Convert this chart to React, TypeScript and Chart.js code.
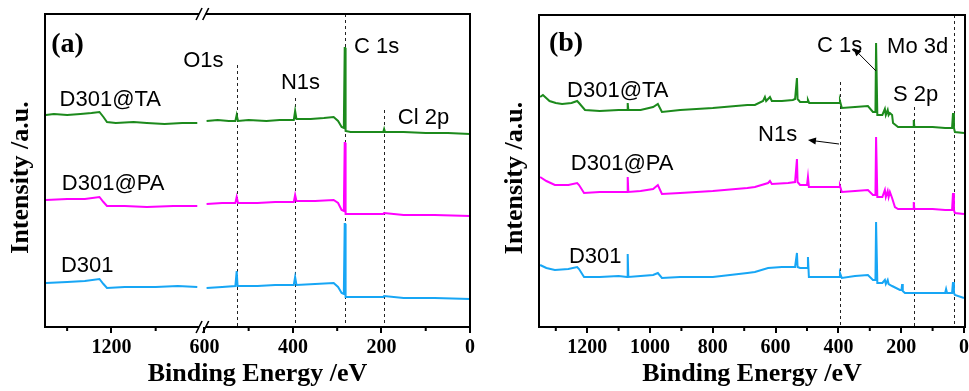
import React, { useEffect, useRef } from "react";
import { Chart, registerables } from "chart.js";

Chart.register(...registerables);

// ---------- shared ----------
const SERIES_NAMES = ["D301@TA", "D301@PA", "D301"];
const SERIES_COLORS = ["#1c8a1c", "#ff00ff", "#17a6f5"];
const X_TITLE = "Binding Energy /eV";
const Y_TITLE = "Intensity /a.u.";

// ---------- panel (a): broken axis 1350-1000 | 600-0 eV ----------
const BREAK_LOW = 600;
const BREAK_HIGH = 1000;
const AXIS_GAP = 10;

const A_TA: [number, number][] = [
  [1348, 212], [1330, 213], [1300, 212], [1270, 213], [1245, 214], [1227, 215], [1218, 210], [1210, 205],
  [1190, 204], [1150, 205], [1120, 204], [1080, 203], [1040, 204], [1006, 204],
  [595, 206], [570, 207], [545, 206], [530, 206], [527, 212], [524, 206], [500, 207], [460, 206], [430, 207],
  [398, 207], [395, 216], [392, 208], [360, 208], [330, 209], [308, 210], [298, 206], [290, 200], [285, 199],
  [283, 279], [282, 279], [281, 196], [270, 195], [230, 195], [196, 195], [194, 198], [192, 195], [150, 195],
  [100, 194], [50, 194], [0, 193],
];
const A_PA: [number, number][] = [
  [1348, 127], [1300, 128], [1260, 128], [1227, 130], [1218, 125], [1210, 121], [1170, 121], [1120, 120],
  [1060, 121], [1006, 121],
  [595, 123], [560, 124], [530, 124], [527, 130], [524, 124], [480, 124], [440, 125], [398, 125], [395, 132],
  [392, 126], [350, 126], [308, 127], [298, 124], [290, 117], [285, 116], [283, 184], [282, 184], [281, 113],
  [250, 113], [196, 113], [194, 114], [150, 112], [80, 112], [0, 111],
];
const A_D301: [number, number][] = [
  [1348, 44], [1300, 45], [1260, 46], [1227, 48], [1218, 43], [1210, 39], [1170, 40], [1100, 40], [1050, 41],
  [1006, 40],
  [595, 39], [560, 40], [530, 41], [527, 56], [525, 41], [480, 41], [440, 42], [398, 42], [395, 50], [392, 42],
  [350, 43], [308, 44], [298, 40], [290, 34], [285, 33], [283, 103], [282, 103], [281, 30], [250, 30], [196, 30],
  [194, 31], [150, 29], [80, 29], [0, 28],
];
const A_TICKS = [1200, 600, 400, 200, 0];
const A_MINOR = [1300, 1100, 500, 300, 100];
const A_LINES = [
  { e: 527, top: 262 },
  { e: 395, top: 229 },
  { e: 283, top: 313 },
  { e: 194, top: 217 },
];
const A_LABELS = [
  { text: "O1s", e: 1038, i: 260 },
  { text: "N1s", e: 427, i: 238 },
  { text: "C 1s", e: 262, i: 274 },
  { text: "Cl 2p", e: 163, i: 203 },
  { text: "D301@TA", e: 1317, i: 221 },
  { text: "D301@PA", e: 1312, i: 137 },
  { text: "D301", e: 1314, i: 55 },
];

// ---------- panel (b): continuous axis ----------
const B_TA: [number, number][] = [
  [1350, 230], [1341, 232], [1320, 226], [1300, 224], [1280, 223], [1250, 224], [1232, 226], [1226, 224],
  [1207, 217], [1160, 216], [1100, 217], [1073, 217], [1071, 224], [1069, 217], [1030, 217], [990, 220],
  [975, 223], [962, 215], [904, 217], [800, 219], [690, 222], [666, 222], [640, 226], [634, 230], [630, 226],
  [618, 230], [612, 226], [580, 226], [545, 227], [538, 228], [532, 249], [530, 228], [522, 225], [499, 225],
  [497, 227], [493, 224], [420, 224], [396, 224], [395, 226], [389, 219], [347, 220], [306, 221], [290, 215],
  [282, 215], [280, 284], [278, 284], [276, 212], [260, 212], [252, 218], [249, 212], [243, 217], [240, 212],
  [236, 214], [229, 212], [226, 204], [210, 200], [162, 200], [160, 207], [158, 200], [100, 200], [60, 199],
  [38, 199], [35, 214], [32, 199], [29, 195], [0, 194],
];
const B_PA: [number, number][] = [
  [1350, 150], [1330, 146], [1303, 142], [1260, 142], [1232, 144], [1226, 142], [1210, 134], [1160, 135],
  [1100, 135], [1073, 135], [1071, 150], [1069, 135], [1030, 136], [990, 138], [975, 142], [962, 133],
  [904, 134], [800, 136], [690, 139], [666, 140], [624, 144], [618, 146], [612, 143], [560, 144], [538, 145],
  [532, 168], [530, 145], [522, 142], [500, 142], [497, 150], [494, 140], [420, 140], [396, 140], [395, 141],
  [389, 135], [347, 136], [306, 137], [290, 132], [282, 132], [280, 190], [278, 190], [276, 130], [260, 130],
  [252, 137], [249, 130], [243, 136], [240, 130], [236, 135], [229, 129], [220, 120], [210, 118], [162, 118],
  [160, 125], [158, 118], [100, 118], [60, 117], [38, 117], [35, 134], [32, 117], [29, 114], [0, 113],
];
const B_D301: [number, number][] = [
  [1350, 62], [1330, 59], [1303, 57], [1260, 58], [1232, 60], [1226, 58], [1210, 50], [1160, 50], [1100, 51],
  [1073, 50], [1071, 73], [1069, 50], [1030, 51], [990, 52], [975, 54], [962, 49], [904, 50], [800, 50],
  [690, 54], [666, 55], [624, 59], [580, 60], [538, 60], [532, 74], [530, 60], [522, 59], [499, 59], [497, 70],
  [494, 50], [420, 50], [396, 50], [395, 54], [389, 49], [347, 51], [306, 52], [290, 47], [282, 47], [280, 105],
  [278, 105], [276, 44], [260, 44], [252, 47], [249, 43], [243, 47], [240, 43], [229, 41], [204, 37], [199, 37],
  [197, 43], [195, 36], [188, 34], [159, 34], [120, 34], [60, 34], [57, 38], [54, 34], [38, 34], [35, 45],
  [32, 34], [29, 32], [0, 29],
];
const B_TICKS = [1200, 1000, 800, 600, 400, 200, 0];
const B_MINOR = [1300, 1100, 900, 700, 500, 300, 100];
const B_LINES = [
  { e: 395, top: 245 },
  { e: 159, top: 220 },
  { e: 32, top: 312 },
];
const B_LABELS = [
  { text: "C 1s", e: 468, i: 275 },
  { text: "Mo 3d", e: 245, i: 274 },
  { text: "D301@TA", e: 1264, i: 230 },
  { text: "S 2p", e: 226, i: 226 },
  { text: "N1s", e: 656, i: 186 },
  { text: "D301@PA", e: 1252, i: 157 },
  { text: "D301", e: 1258, i: 64 },
];
const B_ARROWS = [
  { from: [280, 256], to: [353, 279] },
  { from: [398, 183], to: [497, 187] },
];

// ---------- helpers ----------
const SERIF = "'Liberation Serif', 'Times New Roman', serif";
const SANS = "'Liberation Sans', Arial, sans-serif";

const brokenAxis = (e: number) =>
  e <= BREAK_LOW
    ? e
    : e >= BREAK_HIGH
    ? e - (BREAK_HIGH - BREAK_LOW - AXIS_GAP)
    : BREAK_LOW + ((e - BREAK_LOW) * AXIS_GAP) / (BREAK_HIGH - BREAK_LOW);
const plainAxis = (e: number) => e;

type Panel = {
  tag: string;
  tagPos: [number, number];
  series: [number, number][][];
  toAxis: (e: number) => number;
  broken: boolean;
  xMin: number;
  xMax: number;
  yMax: number;
  ticks: number[];
  minor: number[];
  lines: { e: number; top: number }[];
  labels: { text: string; e: number; i: number }[];
  arrows: { from: number[]; to: number[] }[];
  padding: { left: number; right: number; top: number; bottom: number };
  canvasLeft: number;
  canvasWidth: number;
};

const PANELS: Panel[] = [
  {
    tag: "(a)",
    tagPos: [1336, 275],
    series: [A_TA, A_PA, A_D301],
    toAxis: brokenAxis,
    broken: true,
    xMin: 0,
    xMax: 960,
    yMax: 313,
    ticks: A_TICKS,
    minor: A_MINOR,
    lines: A_LINES,
    labels: A_LABELS,
    arrows: [],
    padding: { left: 45, right: 10, top: 14, bottom: 0 },
    canvasLeft: 0,
    canvasWidth: 480,
  },
  {
    tag: "(b)",
    tagPos: [1322, 276],
    series: [B_TA, B_PA, B_D301],
    toAxis: plainAxis,
    broken: false,
    xMin: -3.2,
    xMax: 1353.5,
    yMax: 312,
    ticks: B_TICKS,
    minor: B_MINOR,
    lines: B_LINES,
    labels: B_LABELS,
    arrows: B_ARROWS,
    padding: { left: 55, right: 4, top: 15, bottom: 0 },
    canvasLeft: 484,
    canvasWidth: 485,
  },
];

function buildData(p: Panel, pts: [number, number][]) {
  const out: { x: number; y: number | null }[] = [];
  pts.forEach(([e, i], k) => {
    if (p.broken && k > 0 && pts[k - 1][0] >= BREAK_HIGH && e <= BREAK_LOW) {
      out.push({ x: BREAK_LOW + AXIS_GAP / 2, y: null });
    }
    out.push({ x: p.toAxis(e), y: i });
  });
  return out;
}

function decorPlugin(p: Panel) {
  return {
    id: "decor",
    beforeDatasetsDraw(chart: any) {
      const { ctx, chartArea } = chart;
      const xs = chart.scales.x;
      const ys = chart.scales.y;
      ctx.save();
      ctx.setLineDash([3, 3]);
      ctx.lineWidth = 1;
      ctx.strokeStyle = "#222";
      for (const l of p.lines) {
        const x = Math.round(xs.getPixelForValue(p.toAxis(l.e))) + 0.5;
        ctx.beginPath();
        ctx.moveTo(x, ys.getPixelForValue(l.top));
        ctx.lineTo(x, chartArea.bottom);
        ctx.stroke();
      }
      ctx.restore();
    },
    afterDraw(chart: any) {
      const { ctx, chartArea } = chart;
      const xs = chart.scales.x;
      const ys = chart.scales.y;
      const { left, right, top, bottom } = chartArea;
      ctx.save();
      // frame
      ctx.strokeStyle = "#000";
      ctx.lineWidth = 2;
      ctx.setLineDash([]);
      ctx.beginPath();
      ctx.moveTo(left, top - 1);
      ctx.lineTo(left, bottom + 1);
      ctx.moveTo(right, top - 1);
      ctx.lineTo(right, bottom + 1);
      if (p.broken) {
        const b1 = xs.getPixelForValue(BREAK_LOW + AXIS_GAP * 1.2);
        const b2 = xs.getPixelForValue(BREAK_LOW - AXIS_GAP * 0.3);
        for (const y of [top, bottom]) {
          ctx.moveTo(left, y);
          ctx.lineTo(b1, y);
          ctx.moveTo(b2, y);
          ctx.lineTo(right, y);
        }
        ctx.stroke();
        ctx.lineWidth = 1.6;
        ctx.beginPath();
        for (const y of [top, bottom]) {
          for (const bx of [b1, b2]) {
            ctx.moveTo(bx - 3, y + 6);
            ctx.lineTo(bx + 3, y - 6);
          }
        }
        ctx.stroke();
      } else {
        ctx.moveTo(left, top);
        ctx.lineTo(right, top);
        ctx.moveTo(left, bottom);
        ctx.lineTo(right, bottom);
        ctx.stroke();
      }
      // minor ticks
      ctx.lineWidth = 2;
      ctx.beginPath();
      for (const m of p.minor) {
        const x = xs.getPixelForValue(p.toAxis(m));
        ctx.moveTo(x, bottom);
        ctx.lineTo(x, bottom + 4);
      }
      ctx.stroke();
      // labels
      ctx.fillStyle = "#000";
      ctx.textBaseline = "alphabetic";
      ctx.textAlign = "left";
      ctx.font = `22px ${SANS}`;
      for (const lb of p.labels) {
        ctx.fillText(lb.text, xs.getPixelForValue(p.toAxis(lb.e)), ys.getPixelForValue(lb.i));
      }
      ctx.font = `bold 28px ${SERIF}`;
      ctx.fillText(p.tag, xs.getPixelForValue(p.toAxis(p.tagPos[0])), ys.getPixelForValue(p.tagPos[1]));
      // arrows
      ctx.strokeStyle = "#000";
      ctx.fillStyle = "#000";
      ctx.lineWidth = 1;
      for (const a of p.arrows) {
        const x1 = xs.getPixelForValue(p.toAxis(a.from[0]));
        const y1 = ys.getPixelForValue(a.from[1]);
        const x2 = xs.getPixelForValue(p.toAxis(a.to[0]));
        const y2 = ys.getPixelForValue(a.to[1]);
        const ang = Math.atan2(y2 - y1, x2 - x1);
        const hl = 8;
        const hw = 3.5;
        ctx.beginPath();
        ctx.moveTo(x1, y1);
        ctx.lineTo(x2 - Math.cos(ang) * hl * 0.8, y2 - Math.sin(ang) * hl * 0.8);
        ctx.stroke();
        ctx.beginPath();
        ctx.moveTo(x2, y2);
        ctx.lineTo(
          x2 - Math.cos(ang) * hl + Math.sin(ang) * hw,
          y2 - Math.sin(ang) * hl - Math.cos(ang) * hw
        );
        ctx.lineTo(
          x2 - Math.cos(ang) * hl - Math.sin(ang) * hw,
          y2 - Math.sin(ang) * hl + Math.cos(ang) * hw
        );
        ctx.closePath();
        ctx.fill();
      }
      // y title
      ctx.font = `bold 26px ${SERIF}`;
      ctx.textAlign = "center";
      ctx.textBaseline = "middle";
      ctx.translate(left - 24, (top + bottom) / 2 + 7);
      ctx.rotate(-Math.PI / 2);
      ctx.fillText(Y_TITLE, 0, 0);
      ctx.restore();
    },
  };
}

function PanelChart({ panel }: { panel: Panel }) {
  const ref = useRef<HTMLCanvasElement>(null);
  useEffect(() => {
    const p = panel;
    const chart = new Chart(ref.current as HTMLCanvasElement, {
      type: "line",
      data: {
        datasets: p.series.map((s, k) => ({
          label: SERIES_NAMES[k],
          data: buildData(p, s),
          borderColor: SERIES_COLORS[k],
          backgroundColor: SERIES_COLORS[k],
          borderWidth: 2,
          pointRadius: 0,
          tension: 0,
          spanGaps: false,
          fill: false,
        })),
      },
      options: {
        animation: false,
        responsive: false,
        devicePixelRatio: 1,
        parsing: false as any,
        layout: { padding: p.padding },
        plugins: { legend: { display: false }, tooltip: { enabled: false } },
        scales: {
          x: {
            type: "linear",
            reverse: true,
            min: p.xMin,
            max: p.xMax,
            afterBuildTicks: (s: any) => {
              s.ticks = p.ticks.map((v) => ({ value: p.toAxis(v) }));
            },
            afterFit: (s: any) => {
              s.height = 64;
              s.paddingLeft = 0;
              s.paddingRight = 0;
            },
            ticks: {
              autoSkip: false,
              maxRotation: 0,
              minRotation: 0,
              padding: 3,
              color: "#000",
              font: { family: SERIF, weight: "bold", size: 20 },
              callback: (_v: any, idx: number) => String(p.ticks[idx]),
            },
            grid: {
              display: true,
              drawOnChartArea: false,
              drawTicks: true,
              tickLength: 6,
              lineWidth: 2,
              color: "#000",
            },
            border: { display: false },
            title: {
              display: true,
              text: X_TITLE,
              color: "#000",
              font: { family: SERIF, weight: "bold", size: 26 },
              padding: { top: 0, bottom: 1 },
            },
          },
          y: { type: "linear", display: false, min: 0, max: p.yMax },
        },
      } as any,
      plugins: [decorPlugin(p)],
    });
    return () => chart.destroy();
  }, [panel]);
  return (
    <canvas
      ref={ref}
      width={panel.canvasWidth}
      height={391}
      style={{ position: "absolute", left: panel.canvasLeft, top: 0, width: panel.canvasWidth, height: 391, display: "block" }}
    />
  );
}

export default function App() {
  return (
    <div style={{ position: "absolute", left: 0, top: 0, width: 969, height: 391, background: "#fff", overflow: "hidden" }}>
      {PANELS.map((p) => (
        <PanelChart key={p.tag} panel={p} />
      ))}
    </div>
  );
}
